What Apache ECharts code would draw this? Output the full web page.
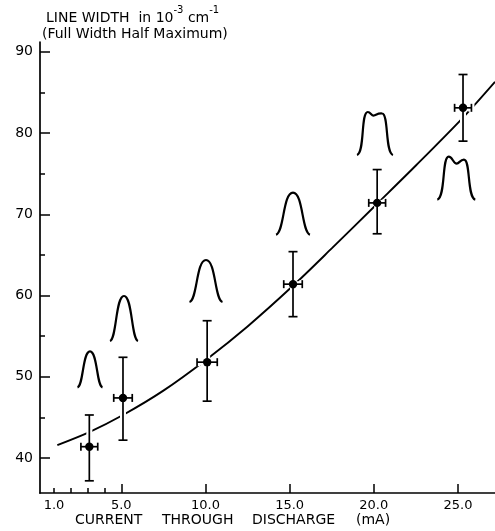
<!DOCTYPE html>
<html>
<head>
<meta charset="utf-8">
<title>Line width vs discharge current</title>
<script src="https://cdn.jsdelivr.net/npm/echarts@6.0.0/dist/echarts.min.js"></script>
<style>
  html, body { margin: 0; padding: 0; background: #fff; }
  #chart { width: 495px; height: 531px; }
</style>
</head>
<body>
<div id="chart"></div>
<script>
// measured points (mA, 10^-3 cm^-1)
const current = [3.1, 5.1, 10.1, 15.2, 20.2, 25.3];
const lineWidth = [41.4, 47.4, 51.8, 61.4, 71.4, 83.1];
const widthLow = [37.2, 42.2, 47.0, 57.4, 67.6, 79.0];
const widthHigh = [45.3, 52.4, 56.9, 65.4, 75.5, 87.2];
const currentErr = [0.5, 0.55, 0.6, 0.55, 0.5, 0.5];

// hand-drawn smooth curve through the points
const fitCurrent = [1.2, 3.1, 5.1, 7.5, 10.1, 12.5, 15.2, 17.5, 20.2, 22.5, 25.3, 27.2];
const fitWidth = [41.6, 43.2, 45.3, 48.3, 52.2, 56.2, 61.2, 65.8, 71.3, 76.0, 81.9, 86.3];

// line profile sketches: anchor (base centre) in data units
const profileCurrent = [3.14, 5.16, 10.03, 15.2, 20.07, 24.9];
const profileBase = [48.7, 54.4, 59.2, 67.5, 77.3, 71.8];
const profileKind = ['single', 'single', 'single', 'single', 'flat', 'double'];

const xLabels = [1, 5, 10, 15, 20, 25];
const yLabels = [40, 50, 60, 70, 80, 90];

// sketch sizes in pixels
const profileSize = [[25, 36], [28, 45], [33, 42], [34, 42], [36, 43], [38, 43]];

const chart = echarts.init(document.getElementById('chart'));

const FONT = 'DejaVu Sans';

function renderErrorBar(params, api) {
  const x = api.value(0), y = api.value(1);
  const c = api.coord([x, y]);
  const top = api.coord([x, api.value(5)]);
  const bot = api.coord([x, api.value(4)]);
  const left = api.coord([api.value(2), y]);
  const right = api.coord([api.value(3), y]);
  const cw = 4.5, ch = 4;
  const segs = [
    [top[0], top[1], bot[0], bot[1]],
    [top[0] - cw, top[1], top[0] + cw, top[1]],
    [bot[0] - cw, bot[1], bot[0] + cw, bot[1]],
    [left[0], left[1], right[0], right[1]],
    [left[0], left[1] - ch, left[0], left[1] + ch],
    [right[0], right[1] - ch, right[0], right[1] + ch]
  ];
  const children = [];
  segs.forEach(s => children.push({
    type: 'line', shape: { x1: s[0], y1: s[1], x2: s[2], y2: s[3] },
    style: { stroke: '#fff', lineWidth: 6 }
  }));
  segs.forEach(s => children.push({
    type: 'line', shape: { x1: s[0], y1: s[1], x2: s[2], y2: s[3] },
    style: { stroke: '#000', lineWidth: 1.7 }
  }));
  children.push({ type: 'circle', shape: { cx: c[0], cy: c[1], r: 4.2 }, style: { fill: '#000' } });
  return { type: 'group', children: children };
}

function profilePath(cx, by, w, h, kind) {
  const L = cx - w / 2, R = cx + w / 2, T = by - h;
  const p = (a, b) => a.toFixed(1) + ' ' + b.toFixed(1);
  let d = 'M ' + p(L, by);
  if (kind === 'single') {
    d += ' C ' + p(L + 0.24 * w, by - 0.05 * h) + ' ' + p(cx - 0.3 * w, T) + ' ' + p(cx, T);
    d += ' C ' + p(cx + 0.3 * w, T) + ' ' + p(R - 0.24 * w, by - 0.05 * h) + ' ' + p(R, by);
  } else if (kind === 'flat') {
    d += ' C ' + p(L + 0.22 * w, by - 0.05 * h) + ' ' + p(cx - 0.4 * w, T) + ' ' + p(cx - 0.2 * w, T);
    d += ' C ' + p(cx - 0.12 * w, T) + ' ' + p(cx - 0.1 * w, T + 4) + ' ' + p(cx - 0.03 * w, T + 3.5);
    d += ' C ' + p(cx + 0.03 * w, T + 3) + ' ' + p(cx + 0.08 * w, T + 1) + ' ' + p(cx + 0.2 * w, T + 1.5);
    d += ' C ' + p(cx + 0.38 * w, T + 2) + ' ' + p(R - 0.22 * w, by - 0.05 * h) + ' ' + p(R, by);
  } else {
    d += ' C ' + p(L + 0.22 * w, by - 0.05 * h) + ' ' + p(cx - 0.38 * w, T) + ' ' + p(cx - 0.2 * w, T);
    d += ' C ' + p(cx - 0.1 * w, T) + ' ' + p(cx - 0.08 * w, T + 7) + ' ' + p(cx + 0.01 * w, T + 7);
    d += ' C ' + p(cx + 0.08 * w, T + 7) + ' ' + p(cx + 0.1 * w, T + 3) + ' ' + p(cx + 0.2 * w, T + 3);
    d += ' C ' + p(cx + 0.38 * w, T + 3) + ' ' + p(R - 0.22 * w, by - 0.05 * h) + ' ' + p(R, by);
  }
  return d;
}

function renderProfile(params, api) {
  const i = params.dataIndex;
  const pt = api.coord([api.value(0), api.value(1)]);
  const sz = profileSize[i];
  return {
    type: 'path',
    shape: { pathData: profilePath(pt[0], pt[1], sz[0], sz[1], profileKind[i]) },
    style: { stroke: '#000', lineWidth: 2.2, fill: null }
  };
}

const axisCommon = {
  type: 'value',
  splitLine: { show: false },
  axisLine: { show: true, onZero: false, lineStyle: { color: '#000', width: 1.7 } }
};

const option = {
  animation: false,
  backgroundColor: '#fff',
  grid: { left: 40, right: 0, top: 42, bottom: 38, containLabel: false },
  xAxis: [
    Object.assign({}, axisCommon, {
      min: 0.17, max: 27.2,
      axisTick: { show: true, inside: true, length: 9, customValues: [5, 10, 15, 20, 25], lineStyle: { color: '#000', width: 1.5 } },
      axisLabel: { customValues: xLabels, formatter: v => v.toFixed(1), color: '#000', fontFamily: FONT, fontSize: 13, margin: 6 }
    }),
    Object.assign({}, axisCommon, {
      min: 0.17, max: 27.2, position: 'bottom',
      axisLine: { show: false },
      axisTick: { show: true, inside: true, length: 5, customValues: [1, 2, 3, 4], lineStyle: { color: '#000', width: 1.5 } },
      axisLabel: { show: false }
    })
  ],
  yAxis: [
    Object.assign({}, axisCommon, {
      min: 35.7, max: 91.2,
      axisTick: { show: true, inside: true, length: 10, customValues: yLabels, lineStyle: { color: '#000', width: 1.5 } },
      axisLabel: { customValues: yLabels, color: '#000', fontFamily: FONT, fontSize: 14, margin: 7 }
    }),
    Object.assign({}, axisCommon, {
      min: 35.7, max: 91.2, position: 'left',
      axisLine: { show: false },
      axisTick: { show: true, inside: true, length: 5, customValues: [45, 55, 65, 75, 85], lineStyle: { color: '#000', width: 1.5 } },
      axisLabel: { show: false }
    })
  ],
  graphic: [
    {
      type: 'text', left: 46, top: 5,
      style: {
        text: '{a|LINE WIDTH  in 10}{s|-3}{a| cm}{s|-1}',
        fill: '#000',
        rich: {
          a: { fontFamily: FONT, fontSize: 14, lineHeight: 20, verticalAlign: 'bottom', fill: '#000' },
          s: { fontFamily: FONT, fontSize: 10, lineHeight: 20, verticalAlign: 'top', fill: '#000' }
        }
      }
    },
    {
      type: 'text', left: 42, top: 27,
      style: { text: '(Full Width Half Maximum)', fill: '#000', font: '14px "DejaVu Sans"' }
    },
    { type: 'text', left: 75, top: 513, style: { text: 'CURRENT', fill: '#000', font: '14px "DejaVu Sans"' } },
    { type: 'text', left: 162, top: 513, style: { text: 'THROUGH', fill: '#000', font: '14px "DejaVu Sans"' } },
    { type: 'text', left: 252, top: 513, style: { text: 'DISCHARGE', fill: '#000', font: '14px "DejaVu Sans"' } },
    { type: 'text', left: 356, top: 513, style: { text: '(mA)', fill: '#000', font: '14px "DejaVu Sans"' } }
  ],
  series: [
    {
      type: 'line',
      data: fitCurrent.map((x, i) => [x, fitWidth[i]]),
      smooth: 0.3,
      showSymbol: false,
      symbol: 'none',
      lineStyle: { color: '#000', width: 1.9 },
      z: 1
    },
    {
      type: 'custom',
      renderItem: renderErrorBar,
      data: current.map((x, i) => [x, lineWidth[i], x - currentErr[i], x + currentErr[i], widthLow[i], widthHigh[i]]),
      z: 3
    },
    {
      type: 'custom',
      renderItem: renderProfile,
      data: profileCurrent.map((x, i) => [x, profileBase[i]]),
      z: 2
    }
  ]
};

chart.setOption(option);
</script>
</body>
</html>
